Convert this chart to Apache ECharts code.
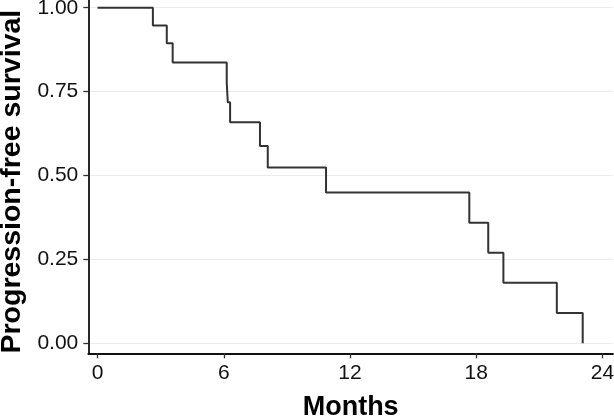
<!DOCTYPE html>
<html>
<head>
<meta charset="utf-8">
<script src="https://cdn.jsdelivr.net/npm/echarts@6/dist/echarts.min.js"></script>
<style>
html,body{margin:0;padding:0;background:#fff;}
#chart{width:614px;height:417px;}
</style>
</head>
<body>
<div id="chart"></div>
<script>
// Kaplan-Meier step data: event times (months) and survival after each step
const months   = [0, 2.63, 3.29, 3.57, 6.14, 6.19, 6.30, 7.72, 8.09, 10.86, 17.67, 18.57, 19.29, 21.83, 23.06];
const survival = [1.0, 0.947, 0.894, 0.837, 0.777, 0.718, 0.659, 0.588, 0.524, 0.449, 0.359, 0.270, 0.180, 0.090, 0.0];
const xTicks = [0, 6, 12, 18, 24];
const yTicks = [0, 0.25, 0.5, 0.75, 1.0];

const font = '"Liberation Sans", Arial, Helvetica, sans-serif';
const chart = echarts.init(document.getElementById('chart'), null, {renderer: 'canvas'});
chart.setOption({
  animation: false,
  backgroundColor: '#ffffff',
  grid: {left: 88.3, right: 1, top: 0, bottom: 63.7, containLabel: false, outerBoundsMode: 'none'},
  xAxis: {
    type: 'value',
    min: -0.44, max: 24.5,
    name: 'Months', nameLocation: 'middle', nameGap: 41,
    nameTextStyle: {fontFamily: font, fontSize: 27, fontWeight: 'bold', color: '#000'},
    axisLine: {show: true, onZero: false, lineStyle: {color: '#111', width: 1.8}},
    axisTick: {show: true, length: 5, customValues: xTicks, lineStyle: {color: '#333', width: 1.3}},
    axisLabel: {customValues: xTicks, margin: 9, fontFamily: font, fontSize: 21, color: '#111', formatter: v => String(v)},
    splitLine: {show: false}
  },
  yAxis: {
    type: 'value',
    min: -0.03, max: 1.023,
    name: 'Progression-free survival', nameLocation: 'middle', nameGap: 62, nameRotate: 90,
    nameTextStyle: {fontFamily: font, fontSize: 28.5, fontWeight: 'bold', color: '#000', padding: [0, 10, 0, 0]},
    axisLine: {show: true, onZero: false, lineStyle: {color: '#111', width: 1.8}},
    axisTick: {show: true, length: 5, customValues: yTicks, lineStyle: {color: '#333', width: 1.3}},
    axisLabel: {customValues: yTicks, margin: 10, fontFamily: font, fontSize: 21, color: '#111', formatter: v => v.toFixed(2)},
    splitLine: {show: true, lineStyle: {color: '#ebebeb', width: 1}}
  },
  series: [{
    type: 'line',
    step: 'end',
    data: months.map((m, i) => [m, survival[i]]),
    showSymbol: false,
    symbol: 'none',
    lineStyle: {color: '#333333', width: 2},
    clip: false
  }]
});
</script>
</body>
</html>
